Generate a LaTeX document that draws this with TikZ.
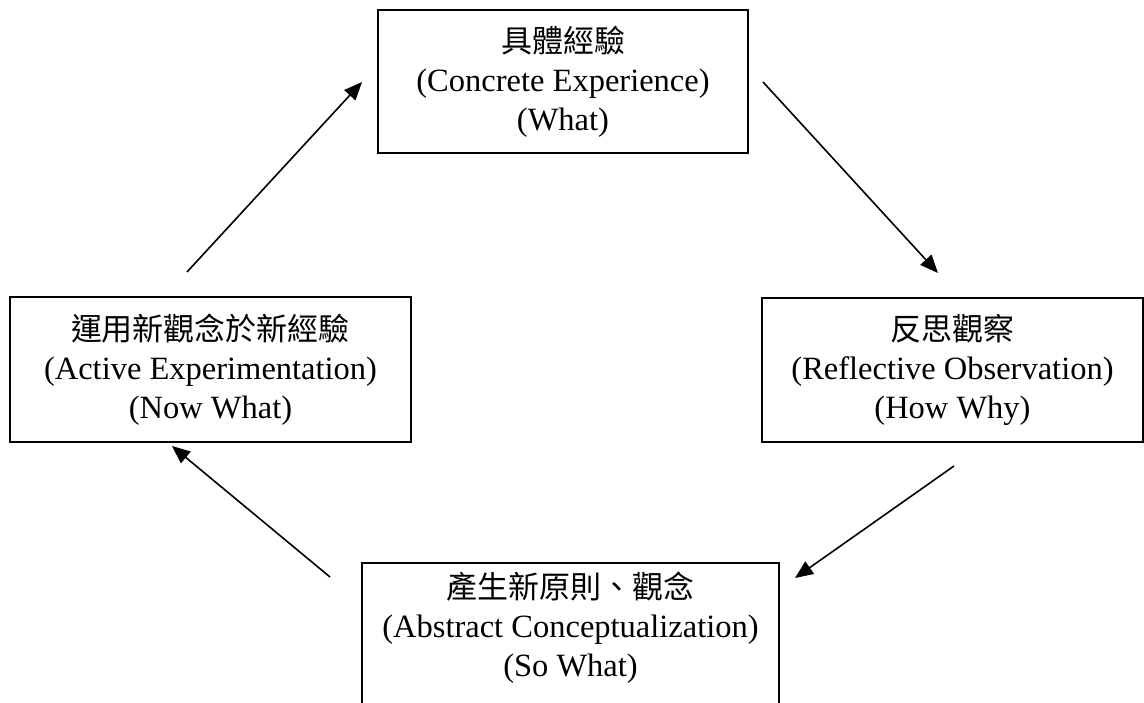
\documentclass[tikz,border=0pt]{standalone}
\usepackage{fontspec}
\setmainfont{Liberation Serif}
\newfontfamily\cjk{Noto Sans CJK TC}
\usetikzlibrary{arrows.meta}

\tikzset{
  stagebox/.style={draw, line width=1.8pt, align=center, inner sep=0pt,
    font=\fontsize{32.5}{39}\selectfont},
  cyclearrow/.style={line width=1.6pt, -{Triangle[length=18pt,width=15pt]}}
}

\begin{document}
\begin{tikzpicture}[x=1pt, y=-1pt]
  \useasboundingbox (0,0) rectangle (1144,703);

  % the four stages of the learning cycle
  \node[stagebox, minimum width=370pt, minimum height=143pt] (ce) at (563,81.5)
    {{\cjk\fontsize{31}{39}\selectfont 具體經驗}\\(Concrete Experience)\\(What)};
  \node[stagebox, minimum width=381pt, minimum height=144pt] (ro) at (952.5,370)
    {{\cjk\fontsize{31}{39}\selectfont 反思觀察}\\(Reflective Observation)\\(How Why)};
  \node[stagebox, minimum width=417pt, anchor=north, inner ysep=9pt] (ac) at (570.5,562)
    {{\cjk\fontsize{31}{39}\selectfont 產生新原則、觀念}\\(Abstract Conceptualization)\\(So What)\\\rule{0pt}{120pt}};
  \node[stagebox, minimum width=401pt, minimum height=145pt] (ae) at (210.5,369.5)
    {{\cjk\fontsize{31}{39}\selectfont 運用新觀念於新經驗}\\(Active Experimentation)\\(Now What)};

  % arrow end points between the stages
  \coordinate (a1s) at (187,272);  \coordinate (a1e) at (362,82);
  \coordinate (a2s) at (763,82);   \coordinate (a2e) at (938,273);
  \coordinate (a3s) at (954,466);  \coordinate (a3e) at (795,578);
  \coordinate (a4s) at (330,577);  \coordinate (a4e) at (172,446);

  \draw[cyclearrow] (a1s) -- (a1e);
  \draw[cyclearrow] (a2s) -- (a2e);
  \draw[cyclearrow] (a3s) -- (a3e);
  \draw[cyclearrow] (a4s) -- (a4e);
\end{tikzpicture}
\end{document}
